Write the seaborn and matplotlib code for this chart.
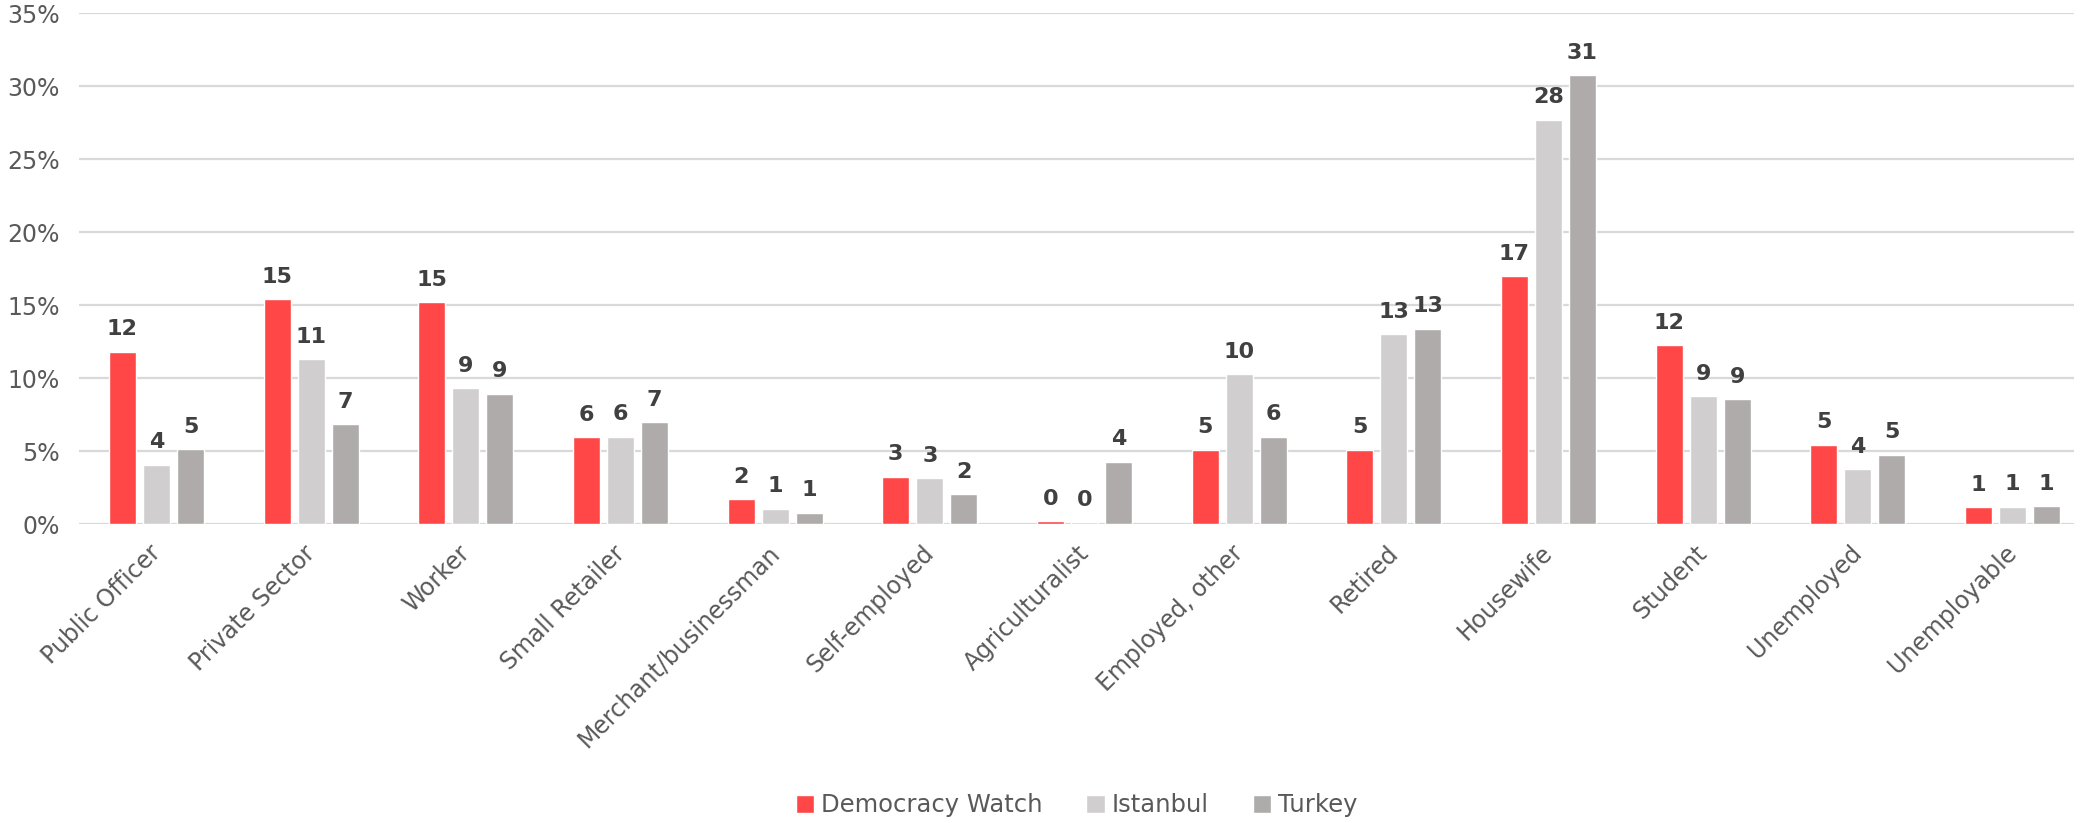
import pandas as pd
import matplotlib
matplotlib.use("Agg")
import matplotlib.pyplot as plt
import matplotlib.ticker as mtick
import matplotlib.transforms as mtrans
import seaborn as sns

# ---------------------------------------------
# Data (percent of respondents)
# ---------------------------------------------
categories = ["Public Officer", "Private Sector", "Worker", "Small Retailer",
              "Merchant/businessman", "Self-employed", "Agriculturalist",
              "Employed, other", "Retired", "Housewife", "Student",
              "Unemployed", "Unemployable"]
series = ["Democracy Watch", "Istanbul", "Turkey"]

democracy_watch = [11.83, 15.40, 15.20, 5.95, 1.72, 3.25, 0.21, 5.10, 5.11, 16.99, 12.25, 5.46, 1.17]
istanbul = [4.09, 11.31, 9.30, 5.98, 1.05, 3.16, 0.14, 10.26, 13.01, 27.71, 8.75, 3.78, 1.19]
turkey = [5.13, 6.84, 8.93, 7.00, 0.78, 2.06, 4.28, 6.00, 13.39, 30.74, 8.55, 4.77, 1.22]

colors = ["#FF4747", "#D0CECF", "#AFABAB"]

df = pd.DataFrame({
    "Category": categories * 3,
    "Series": [s for s in series for _ in categories],
    "Value": democracy_watch + istanbul + turkey,
})

# ---------------------------------------------
# Plot
# ---------------------------------------------
sns.set_theme(style="white")
plt.rcParams["font.family"] = ["DejaVu Sans"]

fig, ax = plt.subplots(figsize=(20.82, 8.23), dpi=100)
fig.subplots_adjust(left=0.038, right=0.9963, top=0.984, bottom=0.363)

sns.barplot(data=df, x="Category", y="Value", hue="Series", order=categories,
            hue_order=series, palette=colors, width=0.66, gap=0.21,
            saturation=1, ax=ax, legend=True)

for cont, vals in zip(ax.containers, [democracy_watch, istanbul, turkey]):
    ax.bar_label(cont, labels=[f"{int(v + 0.5)}" for v in vals], padding=9,
                 fontsize=16, fontweight="bold", color="#404040")

ax.set_xlim(-0.5, 12.4)
ax.set_ylim(0, 35)
ax.set_yticks(range(0, 36, 5))
ax.yaxis.set_major_formatter(mtick.FuncFormatter(lambda v, p: f"{v:.0f}%"))
ax.grid(axis="y", color="#D9D9D9", linewidth=1.6)
ax.set_axisbelow(True)
for s in ax.spines.values():
    s.set_visible(False)
ax.set_xlabel("")
ax.set_ylabel("")
ax.tick_params(axis="both", length=0, colors="#595959", labelsize=17)
ax.tick_params(axis="x", pad=12)
ax.tick_params(axis="y", pad=14)
shift = mtrans.ScaledTranslation(-8 / 100, 0, fig.dpi_scale_trans)
for lbl in ax.get_xticklabels():
    lbl.set_rotation(45)
    lbl.set_ha("right")
    lbl.set_rotation_mode("anchor")
    lbl.set_transform(lbl.get_transform() + shift)

ax.legend(loc="center", bbox_to_anchor=(0.5, -0.55), ncol=3, frameon=False,
          fontsize=17.5, handlelength=0.75, handleheight=0.75, handletextpad=0.3,
          columnspacing=1.8, labelcolor="#595959")

plt.savefig("out.png", dpi=100)
